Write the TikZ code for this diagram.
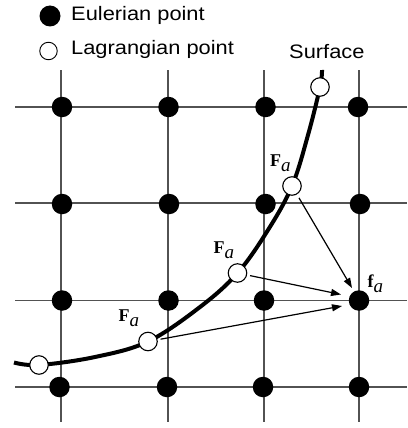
\documentclass[tikz,border=0pt]{standalone}
\usepackage{fontspec}
\usetikzlibrary{arrows.meta}
\newfontfamily\legfont[FakeStretch=1.12]{Liberation Sans}
\newfontfamily\lblfont{Liberation Serif}
\newcommand\myFa{{\lblfont\fontsize{18}{20}\selectfont\bfseries F\raisebox{-5pt}{\fontsize{19}{20}\selectfont\mdseries\itshape a}}}
\newcommand\myfa{{\lblfont\fontsize{18}{20}\selectfont\bfseries f\raisebox{-5pt}{\fontsize{19}{20}\selectfont\mdseries\itshape a}}}
\begin{document}
\begin{tikzpicture}[x=1pt,y=-1pt,
 gridline/.style={draw=black!68, line width=1.3pt},
 epoint/.style={circle, fill=black, inner sep=0, minimum size=20.5pt},
 lpoint/.style={circle, draw=black, line width=1.1pt, fill=white, inner sep=0, minimum size=18.5pt},
 surf/.style={line width=4pt, line cap=butt},
 force/.style={line width=1.2pt, -{Triangle[length=10pt,width=7pt]}},
 legtext/.style={anchor=base west, inner sep=0, font=\legfont\fontsize{19.5}{22}\selectfont},
 lbl/.style={anchor=base west, inner sep=0},
]
\useasboundingbox (0,0) rectangle (407,428);
% grid
\foreach \x in {61,168,264,359} \draw[gridline] (\x,70) -- (\x,422);
\foreach \y in {107,203,300.5,387} \draw[gridline] (15,\y) -- (407,\y);
% Eulerian points
\node[epoint] (E11) at (62,107) {};
\node[epoint] (E12) at (168.5,107) {};
\node[epoint] (E13) at (265.5,107) {};
\node[epoint] (E14) at (358,107) {};
\node[epoint] (E21) at (62,204) {};
\node[epoint] (E22) at (169,204) {};
\node[epoint] (E23) at (265.5,204) {};
\node[epoint] (E24) at (360,204) {};
\node[epoint] (E31) at (62,300.5) {};
\node[epoint] (E32) at (168.5,300.5) {};
\node[epoint] (E33) at (264,300.5) {};
\node[epoint] (E34) at (359,300.5) {};
\node[epoint] (E41) at (59.5,387) {};
\node[epoint] (E42) at (167,387) {};
\node[epoint] (E43) at (263,387) {};
\node[epoint] (E44) at (359,387) {};
% surface
\draw[surf] plot[smooth, tension=0.6] coordinates {(14,362.5) (39,365) (95,357) (148,341.5) (200,307) (237.5,273) (268,230) (292,186) (308,135) (320,87) (322,70)};
% Lagrangian points
\node[lpoint] (L1) at (320,87) {};
\node[lpoint] (L2) at (292,186) {};
\node[lpoint] (L3) at (237.5,273) {};
\node[lpoint] (L4) at (148,341.5) {};
\node[lpoint] (L5) at (39,365) {};
% forces
\coordinate (t1) at (352,288);
\coordinate (t2) at (341,294.5);
\coordinate (t3) at (342,306);
\draw[force, shorten <=4pt] (L2) -- (t1);
\draw[force, shorten <=3pt] (L3) -- (t2);
\draw[force, shorten <=3pt] (L4) -- (t3);
% labels
\node[lbl] (F2) at (270,166.7) {\myFa};
\node[lbl] (F3) at (213.5,253.3) {\myFa};
\node[lbl] (F4) at (118.5,321.7) {\myFa};
\node[lbl] (fa) at (367.5,287) {\myfa};
% legend
\node[epoint, minimum size=21pt] (legE) at (50,16) {};
\node[lpoint, line width=0.9pt, minimum size=17.5pt] (legL) at (48.5,51) {};
\node[legtext] (legEt) at (71,21) {Eulerian point};
\node[legtext] (legLt) at (71,54.3) {Lagrangian point};
\node[legtext] (surfl) at (289,59) {Surface};
\end{tikzpicture}
\end{document}
